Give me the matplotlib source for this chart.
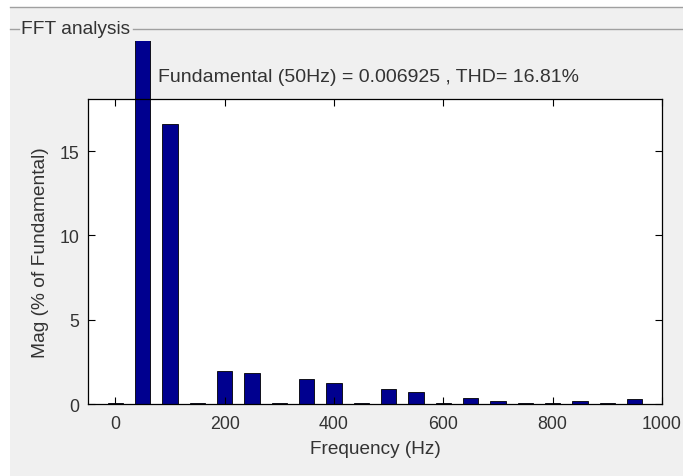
import numpy as np
import matplotlib
matplotlib.use("Agg")
from matplotlib import pyplot as plt
from matplotlib.transforms import Bbox, TransformedBbox
from matplotlib.lines import Line2D

plt.rcParams['font.family'] = ['Liberation Sans', 'DejaVu Sans']

# harmonic spectrum, % of fundamental
freqs = [0, 50, 100, 150, 200, 250, 300, 350, 400, 450, 500,
	550, 600, 650, 700, 750, 800, 850, 900, 950]
mags = [0.08, 100, 16.6, 0.08, 1.98, 1.85, 0.08, 1.5, 1.25, 0.08, 0.9,
	0.73, 0.06, 0.36, 0.2, 0.08, 0.06, 0.2, 0.08, 0.3]
xticks = [0, 200, 400, 600, 800, 1000]
yticks = [0, 5, 10, 15]
title = "Fundamental (50Hz) = 0.006925 , THD= 16.81%"

bg = '#f0f0f0'
txt = '#333333'

fig = plt.figure(figsize=(6.83, 4.77), dpi=100, facecolor=bg)

# window frame lines
fig.patches.append(plt.Rectangle((0, 1 - 8/477), 1, 8/477, transform=fig.transFigure,
	facecolor='white', edgecolor='none'))
fig.patches.append(plt.Rectangle((0, 0), 10/683, 1, transform=fig.transFigure,
	facecolor='white', edgecolor='none'))
fig.lines.append(Line2D([10/683, 1], [1 - 8/477, 1 - 8/477], transform=fig.transFigure,
	color='#a0a0a0', lw=1))
# panel border with label
fig.lines.append(Line2D([10/683, 19/683], [1 - 30/477, 1 - 30/477], transform=fig.transFigure,
	color='#a0a0a0', lw=1))
fig.lines.append(Line2D([133/683, 1], [1 - 30/477, 1 - 30/477], transform=fig.transFigure,
	color='#a0a0a0', lw=1))
fig.text(21/683, 1 - 30/477, "FFT analysis", fontsize=13.8, color=txt, va='center', ha='left')

ax = fig.add_axes([88/683, 1 - 405/477, (662 - 88)/683, (405 - 100)/477])
ax.set_facecolor('white')

bars = ax.bar(freqs, mags, width=28, color='#00008f', edgecolor='black', linewidth=0.6)
# let the fundamental run above the axes, cut at the panel
clip = TransformedBbox(Bbox([[0, 0], [1, 1 - 42/477]]), fig.transFigure)
for b in bars:
	b.set_clip_on(True)
	b.set_clip_box(clip)

ax.set_xlim(-50, 1000)
ax.set_ylim(0, 18.1)
ax.set_xticks(xticks)
ax.set_yticks(yticks)
ax.tick_params(direction='in', length=5, top=True, right=True, labelsize=12.8,
	labelcolor=txt, width=0.8, pad=6)
ax.tick_params(axis='x', pad=8)
for s in ax.spines.values():
	s.set_linewidth(0.9)

ax.set_xlabel("Frequency (Hz)", fontsize=13.7, color=txt, labelpad=6)
ax.set_ylabel("Mag (% of Fundamental)", fontsize=13.8, color=txt, labelpad=8)
fig.text(368/683, 1 - 77/477, title, fontsize=14, color=txt,
	ha='center', va='center')

fig.savefig('out.png', dpi=100, facecolor=bg)
